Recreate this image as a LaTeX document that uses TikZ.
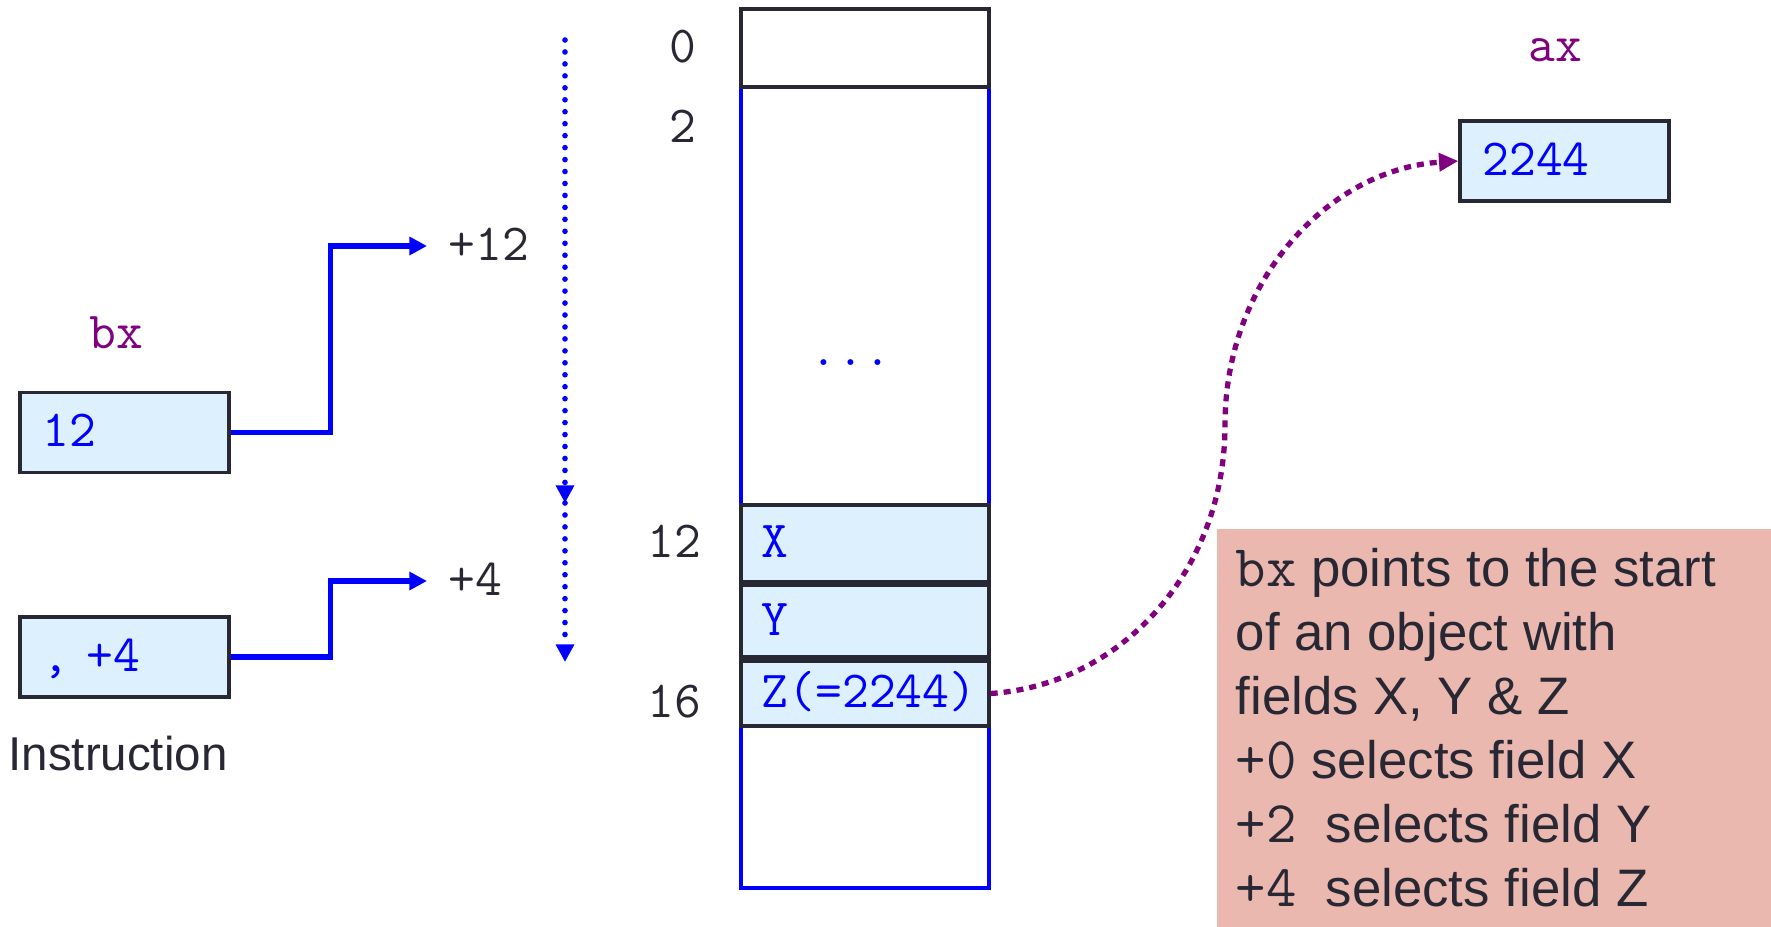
\documentclass[tikz,border=0pt]{standalone}
\usepackage{fontspec}
\setmainfont{Liberation Sans}
\usepackage{tikz}
\usetikzlibrary{arrows.meta,positioning,calc}
\definecolor{regfill}{RGB}{220,240,253}
\definecolor{inkdark}{RGB}{40,40,52}
\definecolor{notefill}{RGB}{235,184,176}
\definecolor{regpurple}{RGB}{128,0,128}
\newcommand{\memfont}{\fontsize{14.8}{17}\selectfont\ttfamily}
\newcommand{\notett}[1]{{\fontsize{16.8}{18.2}\selectfont\ttfamily #1}}

\begin{document}
\begin{tikzpicture}[
    x=0.01cm, y=-0.01cm,
    >={Triangle[length=5pt,width=5pt]},
    reg/.style={draw=inkdark, line width=0.9pt, fill=regfill, text=blue,
       font=\memfont, minimum width=2.09cm, minimum height=0.8cm,
       text width=1.64cm, align=left, inner xsep=0.225cm,
       text height=0.28cm, text depth=0pt},
    cell/.style={draw=inkdark, line width=0.9pt, fill=regfill, text=blue,
       font=\memfont, minimum width=2.48cm, text width=2.06cm, align=left,
       inner xsep=0.21cm, inner ysep=0pt, text height=0.28cm, text depth=0pt},
    regname/.style={font=\memfont, text=regpurple, anchor=base},
    addr/.style={font=\memfont, text=inkdark, anchor=base},
    offs/.style={font=\memfont, text=inkdark, anchor=base west, inner sep=0pt},
    link/.style={blue, line width=1.6pt, ->},
    walk/.style={blue, line width=1.6pt, line cap=round,
       dash pattern=on 0pt off 3.4pt, ->},
    load/.style={regpurple, line width=1.5pt, dash pattern=on 2pt off 1.7pt,
       -{Triangle[length=5.5pt,width=5pt]}}
  ]
    \useasboundingbox (0,0) rectangle (1771,927);

    % Instruction operands
    \node[regname] (bxname) at (116,348) {bx};
    \node[reg] (bxreg) at (124.5,432.5) {12};
    \node[reg] (offreg) at (124.5,657) {, +4};
    \node[font=\fontsize{13.5}{16}\selectfont, text=inkdark, anchor=base]
      (instr) at (118,770) {Instruction};

    % Offsets
    \node[offs] (off12) at (448,260) {+12};
    \node[offs] (off4) at (448,595) {+4};
    \coordinate (tip12) at (427,246);
    \coordinate (tip4) at (427,581);
    \draw[link] (bxreg.east) -- ++(100,0) |- (tip12);
    \draw[link] (offreg.east) -- ++(100,0) |- (tip4);

    % Walk down the memory
    \coordinate (walktop) at (565,40);
    \coordinate (walkmid) at (565,503);
    \coordinate (walkend) at (565,662);
    \draw[walk] (walktop) -- (walkmid);
    \draw[walk] (walkmid) -- (walkend);

    % Memory column
    \draw[blue, line width=1pt] (741,9) rectangle (989,888);
    \node[cell, fill=white, minimum height=0.78cm] (m0) at (865,48) {};
    \node[cell, minimum height=0.77cm] (fx) at (865,543.5) {X};
    \node[cell, minimum height=0.72cm] (fy) at (865,621) {Y};
    \node[cell, minimum height=0.65cm] (fz) at (865,693.5) {Z(=2244)};
    \node[font=\memfont, text=blue, anchor=base] (dots) at (851,365) {...};

    % Addresses
    \node[addr] (a0) at (683,62) {0};
    \node[addr] (a2) at (683,142) {2};
    \node[addr] (a12) at (674,557) {12};
    \node[addr] (a16) at (674,717) {16};

    % Target register
    \node[regname] (axname) at (1555,61) {ax};
    \node[reg] (axreg) at (1564.5,161) {2244};
    \coordinate (bend) at (1225,425);
    \draw[load] (fz.east) .. controls (1120,685) and (1225,572) .. (bend)
      .. controls (1225,278) and (1331,169) .. (axreg.west);

    % Note
    \fill[notefill] (1217,529) rectangle (1771,927);
    \node[font=\fontsize{15}{18.2}\selectfont, text=inkdark, align=left,
      inner sep=0pt, anchor=north west] (note) at (1235,548)
      {\notett{bx} points to the start\\
       of an object with\\
       fields X, Y \& Z\\
       \notett{+0} selects field X\\
       \notett{+2}\ \ selects field Y\\
       \notett{+4}\ \ selects field Z};
  \end{tikzpicture}
\end{document}
